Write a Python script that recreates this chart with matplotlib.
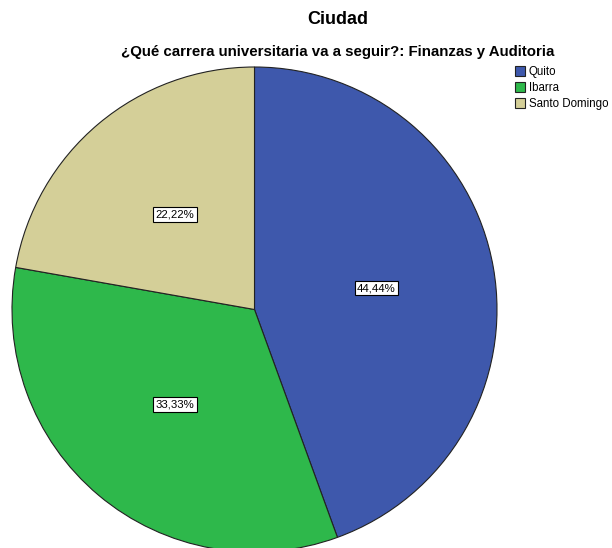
import matplotlib.pyplot as plt

plt.rcParams['font.family'] = ['Liberation Sans', 'DejaVu Sans']

ciudades = ['Quito', 'Ibarra', 'Santo Domingo']
porcentajes = [44.44, 33.33, 22.22]
colores = ['#3e58ac', '#2eb84b', '#d4cf98']

W, H = 612, 548
fig = plt.figure(figsize=(W / 100, H / 100), dpi=100)

# pie area in pixels: center (254.5, 309.5), radius 242.5
cx, cy, r = 254.5, 309.5, 242.5
ax = fig.add_axes([(cx - r) / W, (H - cy - r) / H, 2 * r / W, 2 * r / H])
wedges, texts, autotexts = ax.pie(
    porcentajes, colors=colores, startangle=90, counterclock=False,
    autopct=lambda p: f'{p:.2f}%'.replace('.', ','), pctdistance=0.51,
    wedgeprops=dict(edgecolor='#222222', linewidth=0.8), radius=1.0)
for t in autotexts:
    t.set_fontsize(8.2)
    t.set_bbox(dict(facecolor='white', edgecolor='black', boxstyle='square,pad=0.2', linewidth=0.8))
ax.set_xlim(-1, 1)
ax.set_ylim(-1, 1)
ax.set_aspect('equal')
ax.axis('off')

fig.text(338 / W, 1 - 20 / H, 'Ciudad', ha='center', va='center', fontsize=13, fontweight='bold')
fig.text(338 / W, 1 - 52 / H, '¿Qué carrera universitaria va a seguir?: Finanzas y Auditoria',
         ha='center', va='center', fontsize=10.8, fontweight='bold')

fig.legend(wedges, ciudades, loc='upper left', bbox_to_anchor=(515 / W, 1 - 66 / H),
           frameon=False, fontsize=8.3, handlelength=0.9, handleheight=0.9,
           handletextpad=0.3, labelspacing=0.35, borderaxespad=0, borderpad=0)

fig.savefig('out.png', dpi=100)
